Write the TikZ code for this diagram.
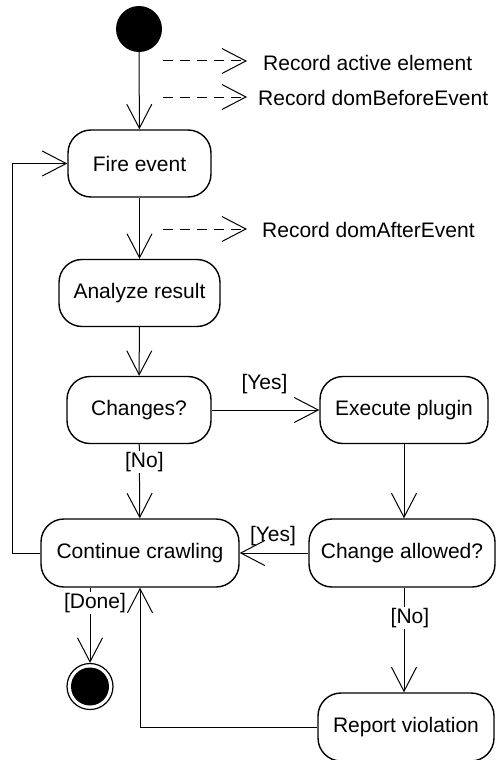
\documentclass[tikz,border=0pt]{standalone}
\usepackage{fontspec}
\setmainfont{Liberation Sans}
\usetikzlibrary{arrows.meta}
\begin{document}
\begin{tikzpicture}[x=1pt,y=-1pt,
  font=\fontsize{21pt}{25pt}\selectfont,
  action/.style={draw,line width=1.4pt,rounded corners=23pt,inner sep=0pt},
  flow/.style={line width=1pt,-{Straight Barb[length=24pt,width=25pt,line width=1pt]}},
  note/.style={flow,dash pattern=on 10pt off 7pt},
  guard/.style={inner sep=1pt,fill=white},
  txt/.style={inner sep=0pt,anchor=west}]
\useasboundingbox (0,0) rectangle (496,760);

% start and end points
\node[circle,fill=black,minimum size=46pt,inner sep=0pt] (start) at (139,29) {};
\node[circle,draw,line width=1.2pt,minimum size=46pt,inner sep=0pt] (final) at (90,686.5) {};
\fill (final.center) circle (19pt);

% actions
\node[action,minimum width=143pt,minimum height=67pt] (fire)    at (139.5,163.5) {Fire event};
\node[action,minimum width=161pt,minimum height=67pt] (analyze) at (139.5,293)   {Analyze result};
\node[action,minimum width=144pt,minimum height=67pt] (changes) at (139,410)     {Changes?};
\node[action,minimum width=168pt,minimum height=67pt] (exec)    at (404,410)     {Execute plugin};
\node[action,minimum width=198pt,minimum height=68pt] (cont)    at (140,553)     {Continue crawling};
\node[action,minimum width=186pt,minimum height=68pt] (allowed) at (402,553)     {Change allowed?};
\node[action,minimum width=176pt,minimum height=68pt] (report)  at (406,727)     {Report violation};

% recorded state notes
\node[txt] (n1) at (263,63)  {Record active element};
\node[txt] (n2) at (258,98)  {Record domBeforeEvent};
\node[txt] (n3) at (262,230) {Record domAfterEvent};
\coordinate (d1a) at (163,61);  \coordinate (d1b) at (247,61);
\coordinate (d2a) at (163,97);  \coordinate (d2b) at (247,97);
\coordinate (d3a) at (163,229); \coordinate (d3b) at (247,229);
\draw[note] (d1a) -- (d1b);
\draw[note] (d2a) -- (d2b);
\draw[note] (d3a) -- (d3b);

% control flow
\draw[flow] (start) -- (fire);
\draw[flow] (fire) -- (analyze);
\draw[flow] (analyze) -- (changes);
\draw[flow] (changes) -- node[above=16pt,xshift=-1pt,inner sep=0pt] {[Yes]} (exec);
\draw[flow] (changes) -- node[guard,pos=0.24,xshift=5pt] {[No]} (cont);
\draw[flow] (exec.south) -- (exec.south |- allowed.north);
\draw[flow] (allowed) -- node[above=7pt,xshift=-1pt,inner sep=0pt] {[Yes]} (cont);
\draw[flow] (allowed.south -| exec.south) -- node[guard,pos=0.29,xshift=6pt] {[No]} (exec.south |- report.north);
\draw[flow] (report.west) -| (cont.south);
\draw[flow] (cont.west) -- ++(-28,0) |- (fire.west);
\draw[flow] (cont.south -| final.north) -- node[guard,pos=0.2,xshift=5pt] {[Done]} (final.north);
\end{tikzpicture}
\end{document}
